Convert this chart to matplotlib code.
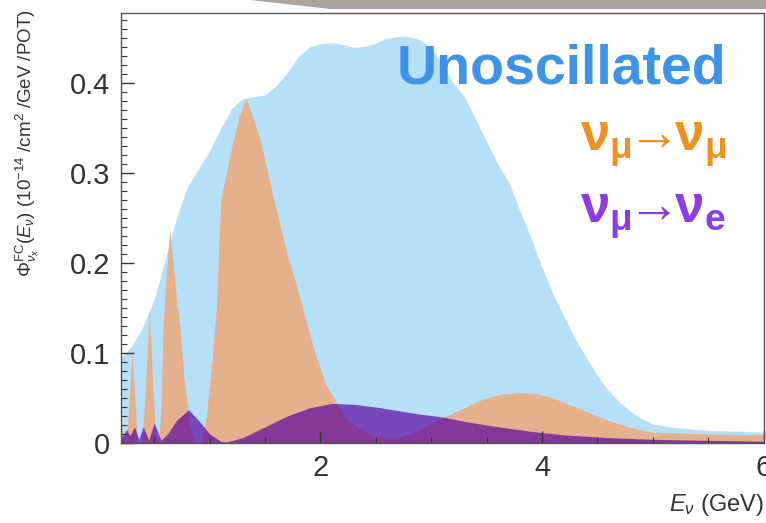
import matplotlib
matplotlib.use("Agg")
import matplotlib.pyplot as plt
from matplotlib.patches import Polygon
from matplotlib.ticker import MultipleLocator, FuncFormatter

plt.rcParams['font.family'] = ['Liberation Sans', 'DejaVu Sans']
plt.rcParams['mathtext.fontset'] = 'custom'
plt.rcParams['mathtext.rm'] = 'Liberation Sans'
plt.rcParams['mathtext.it'] = 'Liberation Sans:italic'
plt.rcParams['mathtext.bf'] = 'Liberation Sans:bold'

# unoscillated flux
e_unosc = [0.2, 0.3, 0.4, 0.5, 0.6, 0.7, 0.8, 0.9, 1.0, 1.1, 1.2, 1.3, 1.4, 1.5, 1.6,
           1.7, 1.8, 1.9, 2.0, 2.1, 2.2, 2.3, 2.4, 2.5, 2.6, 2.7, 2.8, 2.9, 3.0, 3.1,
           3.2, 3.3, 3.4, 3.5, 3.6, 3.7, 3.8, 3.9, 4.0, 4.1, 4.2, 4.3, 4.4, 4.5, 4.6,
           4.7, 4.8, 4.9, 5.0, 5.2, 5.5, 5.8, 6.0]
flux_unosc = [0.095, 0.108, 0.13, 0.16, 0.205, 0.25, 0.285, 0.305, 0.325, 0.35, 0.372,
              0.383, 0.385, 0.387, 0.397, 0.412, 0.43, 0.44, 0.444, 0.445, 0.443, 0.44,
              0.441, 0.445, 0.45, 0.452, 0.452, 0.448, 0.44, 0.42, 0.40, 0.385, 0.36,
              0.335, 0.31, 0.29, 0.258, 0.228, 0.195, 0.165, 0.14, 0.115, 0.095, 0.075,
              0.058, 0.045, 0.035, 0.027, 0.021, 0.017, 0.014, 0.013, 0.012]

# numu -> numu
e_numu = [0.2, 0.25, 0.28, 0.30, 0.32, 0.35, 0.39, 0.42, 0.455, 0.48, 0.51, 0.54, 0.56,
          0.58, 0.61, 0.64, 0.67, 0.70, 0.73, 0.77, 0.82, 0.87, 0.92, 0.97, 1.02, 1.06,
          1.10, 1.2, 1.27, 1.33, 1.45, 1.58, 1.7, 1.82, 1.95, 2.05, 2.12, 2.2, 2.35, 2.5,
          2.65, 2.8, 2.95, 3.1, 3.26, 3.45, 3.61, 3.8, 3.95, 4.1, 4.36, 4.6, 4.8, 5.0,
          5.5, 6.0]
flux_numu = [0.02, 0.0, 0.06, 0.103, 0.06, 0.0, 0.0, 0.06, 0.148, 0.08, 0.01, 0.0, 0.04,
             0.13, 0.19, 0.237, 0.20, 0.16, 0.13, 0.07, 0.02, 0.0, 0.0, 0.03, 0.09, 0.15,
             0.27, 0.33, 0.365, 0.383, 0.34, 0.27, 0.21, 0.159, 0.10, 0.065, 0.05, 0.032,
             0.015, 0.007, 0.006, 0.01, 0.018, 0.028, 0.037, 0.048, 0.054, 0.056, 0.055,
             0.05, 0.037, 0.025, 0.017, 0.012, 0.01, 0.009]

# numu -> nue
e_nue = [0.2, 0.25, 0.28, 0.32, 0.36, 0.40, 0.45, 0.50, 0.56, 0.62, 0.70, 0.81, 0.90,
         1.0, 1.1, 1.15, 1.3, 1.5, 1.7, 1.9, 2.1, 2.3, 2.5, 2.7, 2.9, 3.1, 3.3, 3.6,
         3.9, 4.2, 4.6, 5.0, 5.5, 6.0]
flux_nue = [0.005, 0.015, 0.008, 0.018, 0.004, 0.018, 0.003, 0.022, 0.003, 0.01, 0.025,
            0.037, 0.025, 0.01, 0.002, 0.001, 0.006, 0.018, 0.03, 0.039, 0.044, 0.043,
            0.04, 0.036, 0.032, 0.029, 0.024, 0.018, 0.013, 0.009, 0.006, 0.004, 0.003,
            0.002]

fig = plt.figure(figsize=(7.66, 5.23), dpi=100)
ax = fig.add_axes([0.158, 0.153, 0.839, 0.822])

ax.fill_between(e_unosc, 0, flux_unosc, color="#b5e0f8", lw=0)
ax.fill_between(e_numu, 0, flux_numu, color="#e5b08c", lw=0)
ax.fill_between(e_nue, 0, flux_nue, color="#5a00a0", alpha=0.68, lw=0)

ax.set_xlim(0.2, 6.0)
ax.set_ylim(0, 0.478)

ax.xaxis.set_major_locator(MultipleLocator(2))
ax.xaxis.set_minor_locator(MultipleLocator(0.5))
ax.yaxis.set_major_locator(MultipleLocator(0.1))
ax.yaxis.set_minor_locator(MultipleLocator(0.01))
ax.yaxis.set_major_formatter(FuncFormatter(lambda v, p: "0" if abs(v) < 1e-9 else "%.1f" % v))
ax.tick_params(which="both", direction="in", top=False, right=False,
               labelsize=21, colors="#333333")
ax.tick_params(which="major", length=9, width=1, pad=8)
ax.tick_params(which="minor", length=4, width=0.8)
for s in ax.spines.values():
    s.set_color("#555555")
    s.set_linewidth(1.0)

ax.set_ylabel(r"$\Phi^{\rm FC}_{\nu_x}(E_\nu)$ (10$^{-14}$ /cm$^2$ /GeV /POT)",
              fontsize=13.5, color="#333333", loc="top")
ax.yaxis.set_label_coords(-0.125, 1.01)
ax.set_xlabel(r"$E_\nu$ (GeV)", fontsize=17, color="#333333", loc="right")
ax.xaxis.set_label_coords(1.0, -0.115)

ax.text(0.942, 0.837, "Unoscillated", transform=ax.transAxes, ha="right", va="baseline",
        fontsize=40, fontweight="bold", color="#3d93e6")
ax.text(0.942, 0.681, r"$\mathbf{\nu_\mu\!\!\rightarrow\!\!\nu_\mu}$", transform=ax.transAxes,
        ha="right", va="baseline", fontsize=38, color="#f0901e")
ax.text(0.942, 0.512, r"$\mathbf{\nu_\mu\!\!\rightarrow\!\!\nu_e}$", transform=ax.transAxes,
        ha="right", va="baseline", fontsize=38, color="#8c3be6")

# grey slide decoration along the top edge
fig.patches.append(Polygon([(250 / 766, 1.0), (330 / 766, 1 - 9 / 523), (1.0, 1 - 9 / 523),
                            (1.0, 1.0)], closed=True, transform=fig.transFigure,
                           facecolor="#aaa59e", edgecolor="none"))

fig.savefig("out.png", dpi=100)
